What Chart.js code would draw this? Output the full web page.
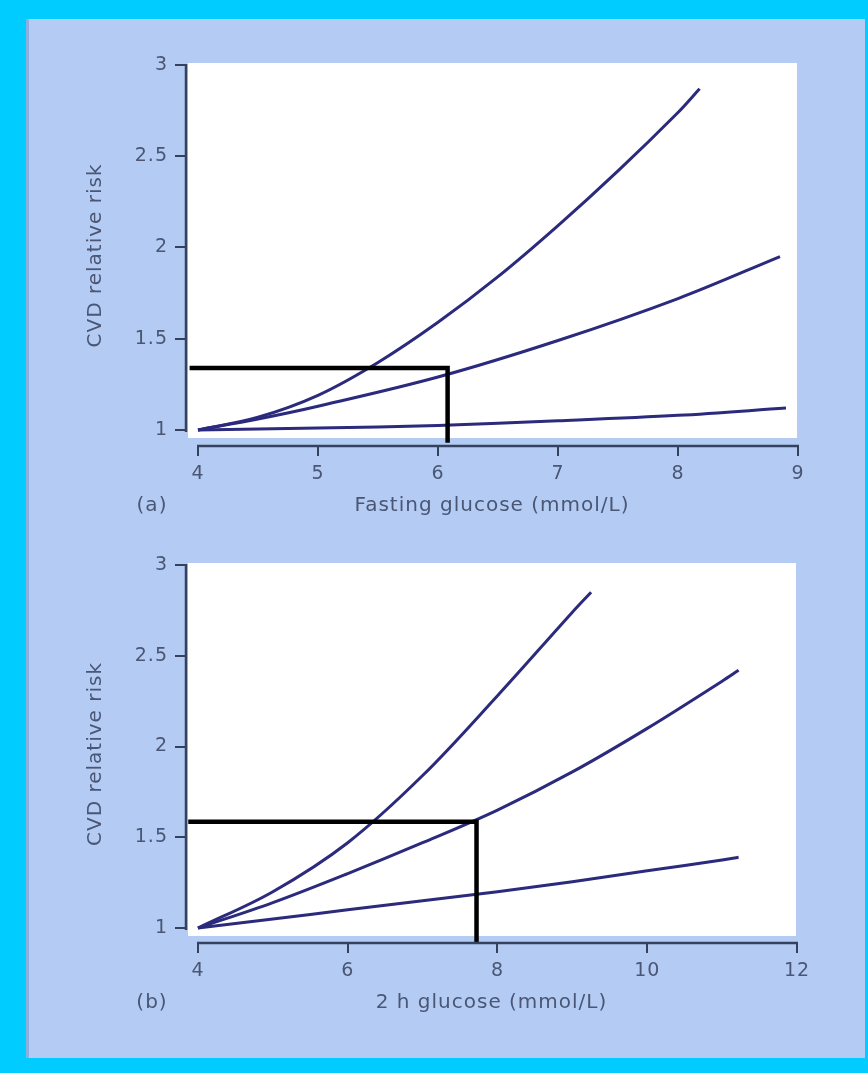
<!DOCTYPE html>
<html>
<head>
<meta charset="utf-8">
<script src="https://cdn.jsdelivr.net/npm/chart.js@4.4.1/dist/chart.umd.min.js"></script>
<style>
    html, body { margin: 0; padding: 0; }
    body { width: 868px; height: 1073px; background: #00ccff; position: relative; overflow: hidden; }
    #panel { position: absolute; left: 26px; top: 19px; width: 839px; height: 1039px; background: #b4ccf4; border-left: 3px solid #8eaee0; box-sizing: border-box; }
    .box { position: absolute; left: 0; width: 868px; height: 530px; }
</style>
</head>
<body>
<div id="panel"></div>
<div class="box" style="top:0"><canvas id="fasting"></canvas></div>
<div class="box" style="top:500px"><canvas id="twohour"></canvas></div>
<script>
// tick values
const riskTicks = [1, 1.5, 2, 2.5, 3];
const fastingTicks = [4, 5, 6, 7, 8, 9];
const twoHourTicks = [4, 6, 8, 10, 12];

// (a) fasting glucose curves
const fastingHighX = [4, 4.5, 5, 5.5, 6, 6.5, 7, 7.5, 8, 8.18];
const fastingHighY = [1, 1.07, 1.19, 1.37, 1.59, 1.84, 2.12, 2.42, 2.74, 2.87];
const fastingMidX = [4, 4.5, 5, 6, 7, 8, 8.85];
const fastingMidY = [1, 1.06, 1.13, 1.29, 1.49, 1.72, 1.95];
const fastingLowX = [4, 5, 6, 7, 8, 8.9];
const fastingLowY = [1, 1.01, 1.025, 1.05, 1.08, 1.12];
const fastingGuideX = [3.93, 6.08, 6.08];
const fastingGuideY = [1.34, 1.34, 0.93];

// (b) 2 h glucose curves
const twoHourHighX = [4, 5, 6, 7, 8, 9, 9.25];
const twoHourHighY = [1, 1.2, 1.47, 1.84, 2.28, 2.74, 2.85];
const twoHourMidX = [4, 5, 6, 7, 8, 9, 10, 11, 11.22];
const twoHourMidY = [1, 1.14, 1.3, 1.47, 1.65, 1.86, 2.1, 2.36, 2.42];
const twoHourLowX = [4, 5, 6, 7, 8, 9, 10, 11, 11.22];
const twoHourLowY = [1, 1.05, 1.1, 1.15, 1.2, 1.255, 1.315, 1.375, 1.39];
const twoHourGuideX = [3.87, 7.72, 7.72];
const twoHourGuideY = [1.585, 1.585, 0.917];

const INK = '#2b2a7c';
const AXIS = '#34415f';
const TEXT = '#4a5674';
const FONT = "'DejaVu Sans', sans-serif";

const toPoints = (xs, ys) => xs.map((x, i) => ({x: x, y: ys[i]}));

const decor = {
    id: 'decor',
    beforeDraw(chart, args, opts) {
        const {ctx, chartArea: a} = chart;
        ctx.letterSpacing = '1px';
        ctx.save();
        ctx.fillStyle = '#ffffff';
        ctx.fillRect(a.left + 2, a.top - 2, a.right - a.left - 3, a.bottom - a.top - opts.gap);
        ctx.restore();
    },
    afterDraw(chart, args, opts) {
        const {ctx, chartArea: a, scales: {x, y}} = chart;
        ctx.save();
        ctx.strokeStyle = AXIS;
        ctx.lineWidth = 2.5;
        ctx.beginPath();
        ctx.moveTo(a.left, y.getPixelForValue(3) - 1);
        ctx.lineTo(a.left, y.getPixelForValue(1) + 2);
        ctx.moveTo(x.getPixelForValue(opts.ticks[0]) - 1, a.bottom);
        ctx.lineTo(x.getPixelForValue(opts.ticks[opts.ticks.length - 1]) + 1, a.bottom);
        ctx.stroke();
        ctx.fillStyle = TEXT;
        ctx.font = '20px ' + FONT;
        ctx.textAlign = 'center';
        ctx.textBaseline = 'middle';
        ctx.fillText(opts.tag, 152, x.bottom - opts.titlePad - 12);
        ctx.restore();
    }
};

function riskChart(id, cfg) {
    const curve = (xs, ys) => ({
        data: toPoints(xs, ys),
        borderColor: INK,
        borderWidth: 3,
        pointRadius: 0,
        tension: 0.35,
        fill: false
    });
    const grid = len => ({drawOnChartArea: false, drawTicks: true, tickLength: len, color: AXIS, lineWidth: 2});
    return new Chart(document.getElementById(id), {
        type: 'line',
        data: {
            datasets: [{
                data: toPoints(cfg.guideX, cfg.guideY),
                borderColor: '#000000',
                borderWidth: 4.5,
                pointRadius: 0,
                tension: 0,
                clip: false,
                borderCapStyle: 'butt',
                borderJoinStyle: 'miter',
                fill: false
            }].concat(cfg.series.map(s => curve(s[0], s[1])))
        },
        options: {
            responsive: true,
            maintainAspectRatio: false,
            animation: false,
            layout: {padding: {left: 0, top: 65, right: cfg.padRight, bottom: 0}},
            plugins: {
                legend: {display: false},
                tooltip: {enabled: false},
                decor: {tag: cfg.tag, ticks: cfg.xTicks, titlePad: cfg.titlePad, gap: cfg.gap}
            },
            scales: {
                x: {
                    type: 'linear',
                    min: cfg.xMin,
                    max: cfg.xTicks[cfg.xTicks.length - 1],
                    afterBuildTicks: s => { s.ticks = cfg.xTicks.map(v => ({value: v})); },
                    afterFit: s => { s.height = cfg.xHeight; },
                    border: {display: false},
                    grid: grid(10),
                    ticks: {color: TEXT, font: {family: FONT, size: 19}, padding: 7, maxRotation: 0, autoSkip: false, callback: v => String(v)},
                    title: {display: true, text: cfg.xTitle, color: TEXT, font: {family: FONT, size: 20}, padding: {top: 0, bottom: cfg.titlePad}}
                },
                y: {
                    type: 'linear',
                    min: cfg.yMin,
                    max: 3,
                    afterBuildTicks: s => { s.ticks = riskTicks.map(v => ({value: v})); },
                    afterFit: s => { s.width = 186; },
                    border: {display: false},
                    grid: grid(11),
                    ticks: {color: TEXT, font: {family: FONT, size: 19}, padding: 7, callback: v => String(v)},
                    title: {display: true, text: 'CVD relative risk', color: TEXT, font: {family: FONT, size: 20}, padding: {top: 84, bottom: 0}}
                }
            }
        },
        plugins: [decor]
    });
}

riskChart('fasting', {
    series: [[fastingHighX, fastingHighY], [fastingMidX, fastingMidY], [fastingLowX, fastingLowY]],
    guideX: fastingGuideX, guideY: fastingGuideY,
    xTicks: fastingTicks, xMin: 3.9, yMin: 0.912,
    xTitle: 'Fasting glucose (mmol/L)', tag: '(a)',
    padRight: 70, xHeight: 84, titlePad: 12, gap: 6
});

riskChart('twohour', {
    series: [[twoHourHighX, twoHourHighY], [twoHourMidX, twoHourMidY], [twoHourLowX, twoHourLowY]],
    guideX: twoHourGuideX, guideY: twoHourGuideY,
    xTicks: twoHourTicks, xMin: 3.84, yMin: 0.9174,
    xTitle: '2 h glucose (mmol/L)', tag: '(b)',
    padRight: 71, xHeight: 87, titlePad: 15, gap: 5
});
</script>
</body>
</html>
